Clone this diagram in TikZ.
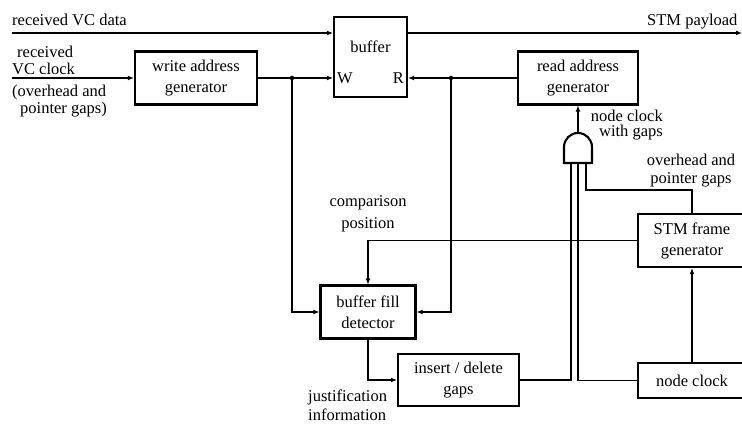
\documentclass[tikz,border=0pt]{standalone}
\usepackage{fontspec}
\setmainfont{Liberation Serif}
\usetikzlibrary{arrows.meta,positioning}

\begin{document}
\begin{tikzpicture}[x=1pt,y=-1pt,>={Latex[length=6pt,width=5pt]},
  font=\fontsize{16.5}{21}\selectfont,
  bloque/.style={draw,line width=2.1pt,minimum width=#1,minimum height=53pt,
    inner sep=0pt,align=center},
  linea/.style={line width=1.5pt},
  punto/.style={circle,fill,inner sep=0pt,minimum size=4.5pt},
  rotulo/.style={inner sep=0pt}]
  \useasboundingbox (0,0) rectangle (742,427);
  % bloques
  \node[bloque=73pt,minimum height=80pt] (buf) at (370.5,57) {};
  \node[rotulo] (bufLbl) at (370.5,47) {buffer};
  \node[bloque=122pt] (wag) at (196,78) {write address\\generator};
  \node[bloque=120pt] (rag) at (578,78) {read address\\generator};
  \node[bloque=95pt] (bfd) at (368,312) {buffer fill\\detector};
  \node[bloque=121pt,minimum height=52pt] (ids) at (458.5,380) {insert / delete\\gaps};
  \node[bloque=108pt] (stm) at (692,240.5) {STM frame\\generator};
  \node[bloque=108pt,minimum height=35pt] (nc) at (692,380.5) {node clock};
  \node[rotulo,anchor=west] (wLbl) at ([xshift=4pt]buf.west |- wag.east) {W};
  \node[rotulo,anchor=east] (rLbl) at ([xshift=-4pt]buf.east |- rag.west) {R};
  % puerta AND
  \draw[line width=2.1pt] (564,163) -- (564,147)
    arc[start angle=180,end angle=360,radius=14] -- (592,163) -- cycle;
  \coordinate (gOut) at (578,133);
  \coordinate (gA) at (571,163);
  \coordinate (gB) at (578,163);
  \coordinate (gC) at (586,163);
  % entradas y salidas libres
  \coordinate (dataIn) at (12,33);
  \coordinate (payOut) at (742,33);
  \coordinate (clkIn) at (12,78);
  \node[punto] (jW) at (292,78) {};
  \node[punto] (jR) at (451,78) {};
  % conexiones
  \draw[linea,->] (dataIn) -- (dataIn -| buf.west);
  \draw[linea,->] (dataIn -| buf.east) -- (payOut);
  \draw[linea,->] (clkIn) -- (wag.west);
  \draw[linea,->] (wag.east) -- (buf.west |- wag.east);
  \draw[linea,->] (jW) |- (bfd.west);
  \draw[linea,->] (rag.west) -- (buf.east |- rag.west);
  \draw[linea,->] (jR) |- (bfd.east);
  \draw[linea,->] (stm.west) -| (bfd.north);
  \draw[linea,->] (bfd.south) |- (ids.west);
  \draw[linea] (ids.east) -| (gA);
  \draw[linea] (nc.west) -| (gB);
  \draw[linea] (stm.north) -- ++(0,-23) -| (gC);
  \draw[linea,->] (gOut) -- (rag.south);
  \draw[linea,->] (nc.north) -- (stm.south);
  % textos
  \node[rotulo,anchor=base west] (lblData) at (12,26) {received VC data};
  \node[rotulo,anchor=base west] (lblPay) at (647,26) {STM payload};
  \node[rotulo,anchor=west,align=left,font=\fontsize{16.5}{17}\selectfont]
    (lblClk) at (12,60.5) {\hspace*{5pt}received\\VC clock};
  \node[rotulo,anchor=west,align=left,font=\fontsize{16.5}{17}\selectfont]
    (lblGaps) at (12,101.5) {(overhead and\\\hspace*{8pt}pointer gaps)};
  \node[rotulo,align=center,font=\fontsize{16.5}{22}\selectfont]
    (lblComp) at (368,214) {comparison\\position};
  \node[rotulo,anchor=west,align=left,font=\fontsize{16.5}{19}\selectfont]
    (lblJust) at (308,405.5) {justification\\information};
  \node[rotulo,anchor=east,align=right,font=\fontsize{16.5}{15}\selectfont]
    (lblNode) at (663,125.5) {node clock\\with gaps};
  \node[rotulo,align=center,font=\fontsize{16.5}{18}\selectfont]
    (lblOvh) at (691,171) {overhead and\\pointer gaps};
\end{tikzpicture}
\end{document}
